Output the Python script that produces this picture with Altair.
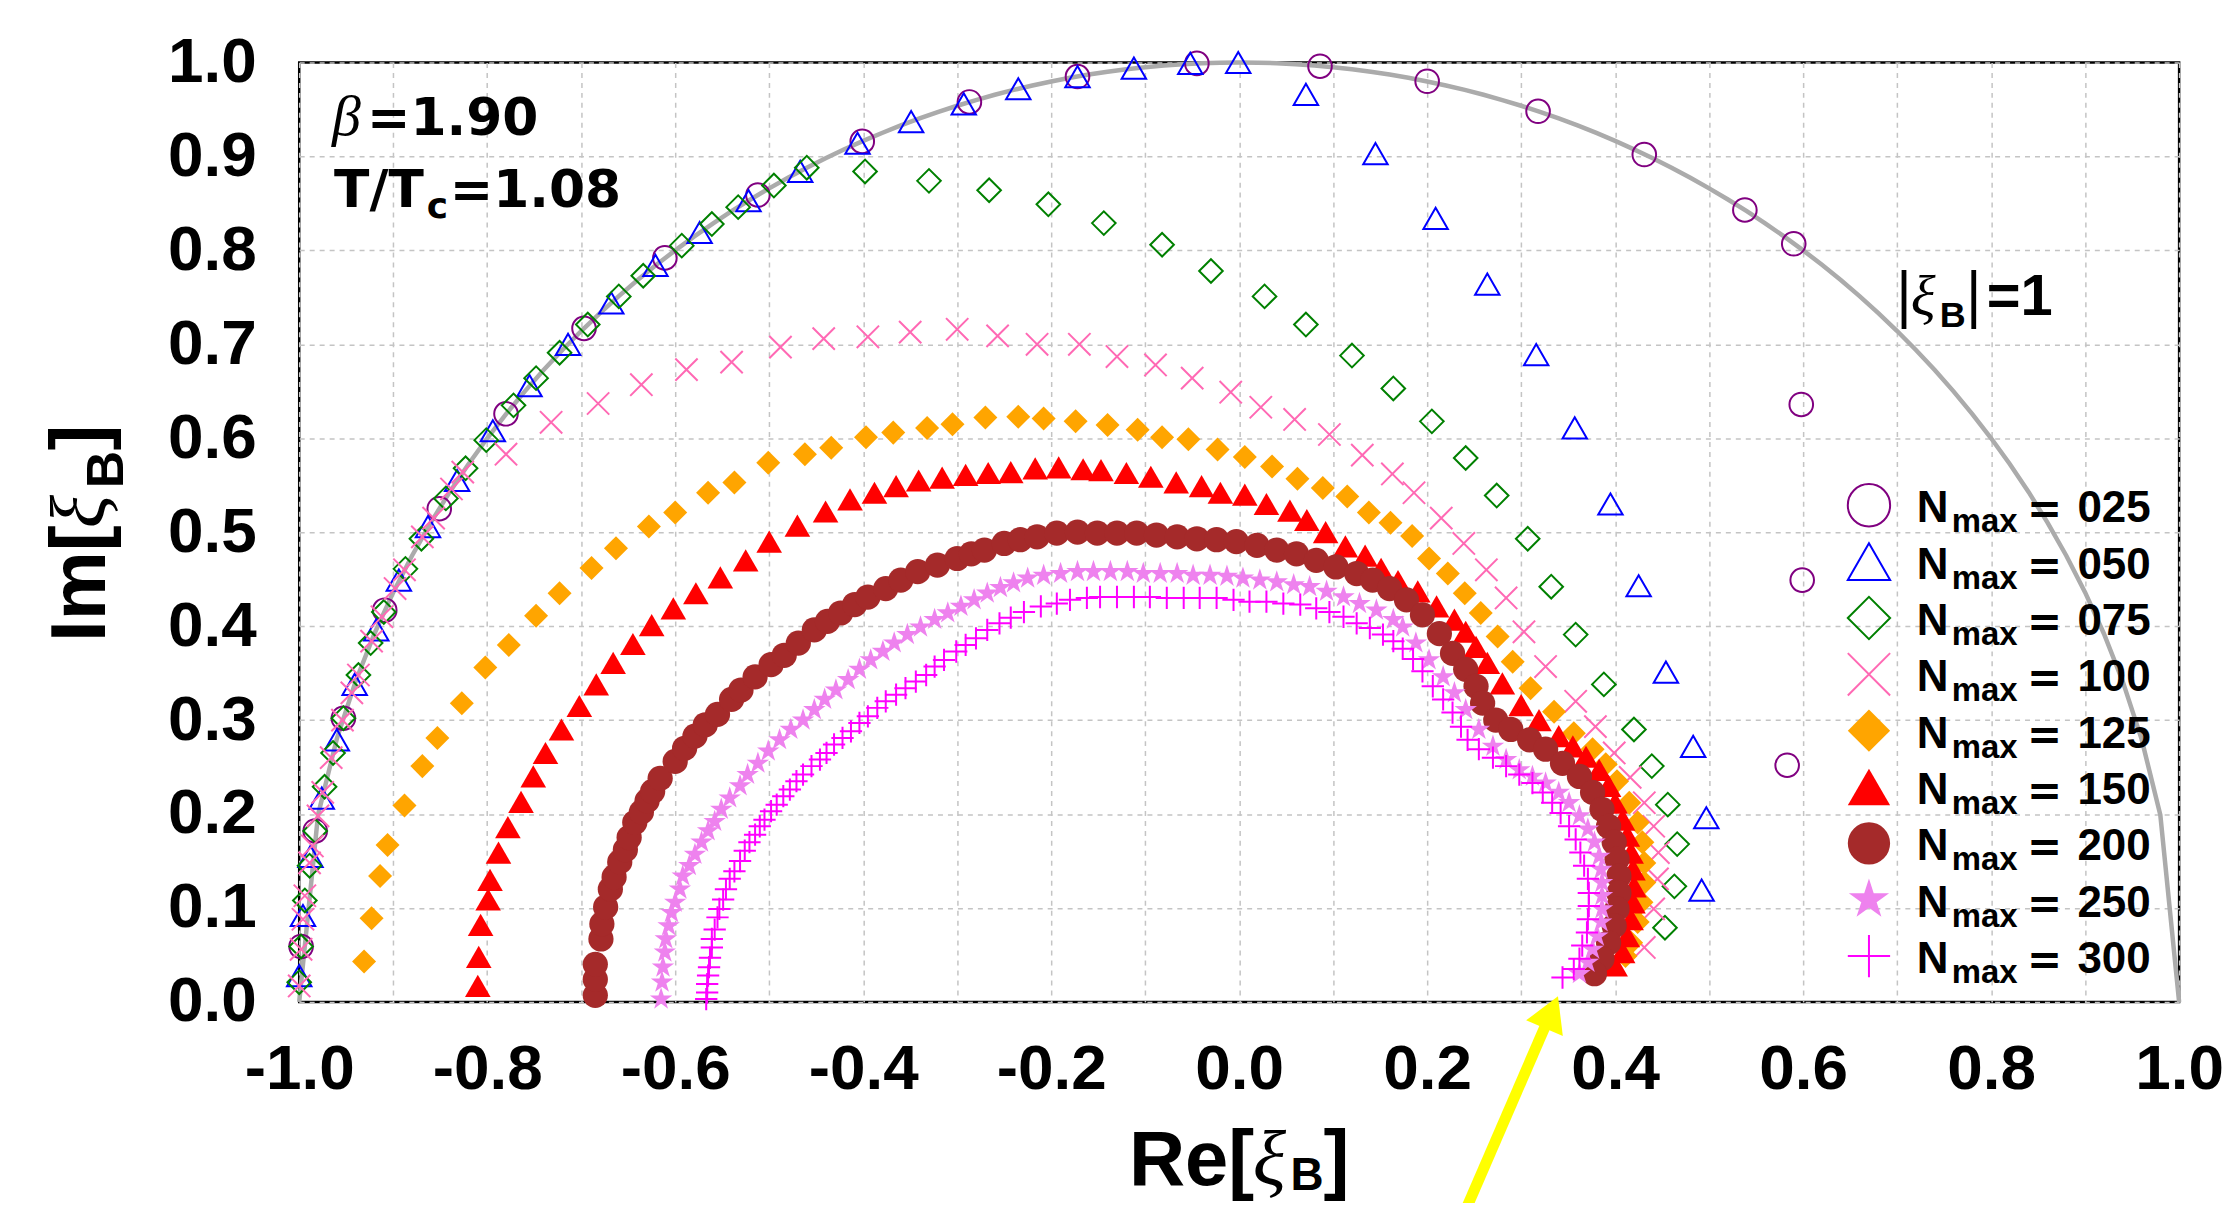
import numpy as np
import pandas as pd
import altair as alt

# ---------------- data ----------------
n025 = [(-0.998,0.059),(-0.983,0.182),(-0.953,0.302),(-0.909,0.417),(-0.851,0.525),(-0.780,0.626),
        (-0.697,0.717),(-0.611,0.792),(-0.512,0.859),(-0.401,0.916),(-0.287,0.958),(-0.172,0.985),
        (-0.045,0.999),(0.086,0.996),(0.200,0.980),(0.318,0.948),(0.431,0.902),(0.538,0.843),
        (0.590,0.807),(0.598,0.636),(0.599,0.449),(0.583,0.252)]

n050 = [(-1.000,0.028),(-0.996,0.092),(-0.988,0.155),(-0.976,0.217),(-0.960,0.279),(-0.941,0.338),
        (-0.918,0.396),(-0.894,0.449),(-0.863,0.506),(-0.832,0.555),(-0.794,0.608),(-0.755,0.656),
        (-0.714,0.700),(-0.668,0.744),(-0.621,0.784),(-0.574,0.819),(-0.522,0.853),(-0.467,0.884),
        (-0.406,0.914),(-0.349,0.937),(-0.293,0.956),(-0.235,0.972),(-0.172,0.985),(-0.112,0.994),
        (-0.052,0.999),(-0.001,1.000),(0.071,0.966),(0.145,0.903),(0.209,0.834),(0.264,0.764),
        (0.316,0.689),(0.357,0.611),(0.395,0.530),(0.425,0.443),(0.454,0.351),(0.483,0.272),
        (0.497,0.196),(0.492,0.119)]

n075 = [(-1.000,0.021),(-0.998,0.059),(-0.994,0.108),(-0.989,0.145),(-0.983,0.182),(-0.973,0.229),
        (-0.964,0.265),(-0.953,0.302),(-0.937,0.348),(-0.924,0.382),(-0.910,0.415),(-0.887,0.461),
        (-0.870,0.493),(-0.844,0.536),(-0.823,0.568),(-0.801,0.598),(-0.772,0.635),(-0.748,0.664),
        (-0.723,0.691),(-0.693,0.721),(-0.660,0.751),(-0.634,0.773),(-0.593,0.805),(-0.561,0.828),
        (-0.533,0.846),(-0.495,0.869),(-0.460,0.888),(-0.398,0.884),(-0.330,0.874),(-0.266,0.864),
        (-0.203,0.849),(-0.144,0.829),(-0.082,0.806),(-0.030,0.778),(0.027,0.751),(0.071,0.721),
        (0.120,0.688),(0.164,0.653),(0.205,0.618),(0.241,0.579),(0.274,0.539),(0.307,0.493),
        (0.332,0.442),(0.358,0.391),(0.388,0.338),(0.420,0.290),(0.439,0.251),(0.456,0.210),
        (0.466,0.168),(0.463,0.123),(0.453,0.079)]

n100 = [(-1.000,0.017),(-0.998,0.056),(-0.996,0.088),(-0.994,0.113),(-0.989,0.148),(-0.986,0.166),
        (-0.980,0.198),(-0.975,0.223),(-0.966,0.260),(-0.954,0.300),(-0.944,0.329),(-0.937,0.348),
        (-0.923,0.384),(-0.912,0.410),(-0.898,0.440),(-0.888,0.460),(-0.869,0.495),(-0.857,0.515),
        (-0.838,0.546),(-0.826,0.564),(-0.780,0.583),(-0.732,0.617),(-0.682,0.637),(-0.636,0.657),
        (-0.588,0.673),(-0.540,0.681),(-0.488,0.697),(-0.442,0.706),(-0.395,0.708),(-0.350,0.713),
        (-0.300,0.716),(-0.257,0.709),(-0.215,0.700),(-0.170,0.700),(-0.130,0.687),(-0.089,0.678),
        (-0.050,0.664),(-0.009,0.649),(0.023,0.633),(0.059,0.620),(0.096,0.604),(0.131,0.582),
        (0.163,0.562),(0.186,0.542),(0.215,0.515),(0.239,0.488),(0.263,0.460),(0.284,0.430),
        (0.303,0.394),(0.326,0.357),(0.358,0.320),(0.379,0.293),(0.399,0.265),(0.416,0.239),
        (0.431,0.212),(0.441,0.187),(0.446,0.159),(0.445,0.131),(0.441,0.099),(0.431,0.058)]

n125 = [(-0.931,0.043),(-0.923,0.089),(-0.914,0.134),(-0.906,0.167),(-0.888,0.209),(-0.869,0.251),
        (-0.853,0.281),(-0.827,0.318),(-0.802,0.356),(-0.777,0.380),(-0.748,0.411),(-0.723,0.435),
        (-0.689,0.462),(-0.663,0.483),(-0.628,0.506),(-0.600,0.521),(-0.565,0.542),(-0.537,0.553),
        (-0.501,0.574),(-0.462,0.583),(-0.434,0.590),(-0.397,0.601),(-0.368,0.606),(-0.332,0.611),
        (-0.305,0.615),(-0.270,0.622),(-0.235,0.623),(-0.208,0.621),(-0.174,0.618),(-0.140,0.614),
        (-0.108,0.609),(-0.082,0.601),(-0.054,0.599),(-0.023,0.588),(0.006,0.580),(0.035,0.570),
        (0.062,0.557),(0.089,0.547),(0.115,0.538),(0.138,0.521),(0.161,0.510),(0.184,0.496),
        (0.202,0.472),(0.222,0.456),(0.240,0.435),(0.257,0.414),(0.275,0.389),(0.291,0.362),
        (0.310,0.334),(0.335,0.309),(0.356,0.286),(0.376,0.269),(0.390,0.253),(0.402,0.235),
        (0.415,0.212),(0.424,0.191),(0.429,0.170),(0.431,0.148),(0.431,0.127),(0.428,0.106),
        (0.424,0.085),(0.417,0.063),(0.411,0.049)]

n150 = [(-0.810,0.017),(-0.809,0.048),(-0.807,0.082),(-0.799,0.109),(-0.797,0.130),(-0.788,0.159),
        (-0.778,0.186),(-0.764,0.213),(-0.751,0.240),(-0.738,0.265),(-0.721,0.290),(-0.702,0.315),
        (-0.684,0.338),(-0.666,0.361),(-0.645,0.381),(-0.625,0.401),(-0.602,0.419),(-0.578,0.435),
        (-0.552,0.452),(-0.525,0.470),(-0.500,0.490),(-0.470,0.507),(-0.440,0.522),(-0.414,0.535),
        (-0.388,0.542),(-0.365,0.549),(-0.341,0.555),(-0.316,0.558),(-0.291,0.561),(-0.267,0.563),
        (-0.243,0.564),(-0.217,0.568),(-0.192,0.569),(-0.166,0.567),(-0.147,0.566),(-0.120,0.563),
        (-0.094,0.559),(-0.067,0.553),(-0.040,0.549),(-0.020,0.542),(0.006,0.540),(0.029,0.530),
        (0.054,0.523),(0.072,0.513),(0.092,0.500),(0.113,0.485),(0.134,0.475),(0.151,0.461),
        (0.169,0.448),(0.190,0.437),(0.210,0.421),(0.229,0.407),(0.241,0.394),(0.252,0.378),
        (0.264,0.361),(0.280,0.339),(0.300,0.316),(0.319,0.300),(0.340,0.283),(0.355,0.272),
        (0.369,0.261),(0.383,0.247),(0.393,0.230),(0.400,0.212),(0.408,0.194),(0.413,0.177),
        (0.417,0.159),(0.419,0.141),(0.420,0.123),(0.419,0.106),(0.417,0.088),(0.413,0.070),
        (0.408,0.053),(0.400,0.039)]

n200 = [(-0.685,0.007),(-0.685,0.024),(-0.685,0.040),(-0.679,0.067),(-0.678,0.083),(-0.674,0.101),
        (-0.669,0.120),(-0.665,0.133),(-0.659,0.149),(-0.653,0.162),(-0.649,0.175),(-0.643,0.191),
        (-0.636,0.202),(-0.630,0.214),(-0.624,0.224),(-0.616,0.238),(-0.600,0.256),(-0.590,0.270),
        (-0.579,0.283),(-0.568,0.295),(-0.555,0.306),(-0.540,0.322),(-0.530,0.332),(-0.515,0.346),
        (-0.498,0.359),(-0.484,0.369),(-0.469,0.382),(-0.452,0.396),(-0.438,0.405),(-0.424,0.414),
        (-0.409,0.423),(-0.395,0.431),(-0.376,0.440),(-0.360,0.449),(-0.342,0.458),(-0.321,0.465),
        (-0.300,0.472),(-0.285,0.477),(-0.271,0.481),(-0.250,0.488),(-0.233,0.492),(-0.215,0.495),
        (-0.194,0.499),(-0.172,0.500),(-0.151,0.499),(-0.130,0.499),(-0.109,0.499),(-0.088,0.497),
        (-0.066,0.495),(-0.045,0.493),(-0.024,0.492),(-0.003,0.490),(0.019,0.486),(0.040,0.481),
        (0.061,0.477),(0.082,0.470),(0.103,0.463),(0.125,0.456),(0.142,0.449),(0.160,0.440),
        (0.178,0.428),(0.195,0.412),(0.213,0.392),(0.227,0.371),(0.241,0.354),(0.252,0.336),
        (0.259,0.318),(0.273,0.300),(0.289,0.290),(0.309,0.279),(0.326,0.269),(0.344,0.254),
        (0.362,0.240),(0.376,0.223),(0.386,0.205),(0.393,0.187),(0.399,0.170),(0.402,0.152),
        (0.404,0.134),(0.404,0.116),(0.402,0.099),(0.399,0.081),(0.393,0.063),(0.386,0.046),
        (0.378,0.030)]

n250 = [(-0.615,0.003),(-0.614,0.021),(-0.613,0.037),(-0.611,0.053),(-0.610,0.067),(-0.607,0.081),
        (-0.604,0.095),(-0.600,0.106),(-0.595,0.120),(-0.592,0.134),(-0.585,0.145),(-0.579,0.157),
        (-0.572,0.170),(-0.565,0.182),(-0.558,0.192),(-0.551,0.205),(-0.542,0.217),(-0.531,0.230),
        (-0.523,0.242),(-0.512,0.254),(-0.501,0.267),(-0.489,0.279),(-0.477,0.290),(-0.464,0.300),
        (-0.452,0.311),(-0.441,0.322),(-0.429,0.332),(-0.416,0.343),(-0.404,0.354),(-0.392,0.364),
        (-0.379,0.373),(-0.367,0.382),(-0.353,0.391),(-0.339,0.399),(-0.324,0.407),(-0.310,0.414),
        (-0.296,0.421),(-0.282,0.428),(-0.268,0.435),(-0.254,0.441),(-0.240,0.446),(-0.225,0.451),
        (-0.208,0.454),(-0.190,0.456),(-0.172,0.458),(-0.155,0.458),(-0.137,0.458),(-0.119,0.458),
        (-0.102,0.456),(-0.084,0.456),(-0.066,0.456),(-0.049,0.454),(-0.031,0.454),(-0.013,0.453),
        (0.004,0.451),(0.022,0.449),(0.040,0.447),(0.058,0.444),(0.075,0.442),(0.093,0.437),
        (0.111,0.431),(0.128,0.424),(0.146,0.417),(0.164,0.407),(0.174,0.399),(0.188,0.382),
        (0.202,0.364),(0.217,0.346),(0.229,0.329),(0.241,0.311),(0.255,0.290),(0.270,0.272),
        (0.284,0.258),(0.298,0.247),(0.312,0.240),(0.326,0.233),(0.340,0.223),(0.351,0.212),
        (0.362,0.198),(0.371,0.184),(0.378,0.170),(0.383,0.155),(0.385,0.141),(0.386,0.127),
        (0.386,0.113),(0.386,0.099),(0.385,0.085),(0.381,0.070),(0.376,0.056),(0.371,0.042),
        (0.362,0.030)]

n300 = [(-0.567,0.003),(-0.566,0.010),(-0.566,0.019),(-0.565,0.028),(-0.564,0.037),(-0.563,0.047),
        (-0.561,0.058),(-0.561,0.067),(-0.558,0.077),(-0.555,0.090),(-0.553,0.099),(-0.549,0.109),
        (-0.546,0.120),(-0.542,0.131),(-0.537,0.139),(-0.531,0.150),(-0.526,0.161),(-0.521,0.170),
        (-0.515,0.178),(-0.510,0.187),(-0.505,0.194),(-0.498,0.203),(-0.492,0.210),(-0.485,0.219),
        (-0.478,0.226),(-0.471,0.235),(-0.464,0.242),(-0.455,0.251),(-0.446,0.258),(-0.439,0.265),
        (-0.431,0.274),(-0.422,0.281),(-0.413,0.288),(-0.404,0.297),(-0.395,0.304),(-0.385,0.313),
        (-0.376,0.320),(-0.365,0.327),(-0.355,0.334),(-0.344,0.341),(-0.333,0.348),(-0.324,0.357),
        (-0.314,0.364),(-0.301,0.373),(-0.291,0.380),(-0.280,0.387),(-0.268,0.396),(-0.255,0.403),
        (-0.243,0.409),(-0.229,0.415),(-0.211,0.421),(-0.194,0.424),(-0.180,0.428),(-0.162,0.430),
        (-0.148,0.431),(-0.130,0.431),(-0.112,0.431),(-0.095,0.431),(-0.077,0.430),(-0.059,0.430),
        (-0.042,0.430),(-0.024,0.430),(-0.006,0.428),(0.011,0.426),(0.029,0.426),(0.047,0.424),
        (0.065,0.423),(0.082,0.419),(0.096,0.415),(0.111,0.410),(0.125,0.403),(0.139,0.398),
        (0.153,0.391),(0.164,0.384),(0.174,0.376),(0.185,0.365),(0.195,0.352),(0.206,0.336),
        (0.217,0.322),(0.227,0.308),(0.236,0.293),(0.243,0.279),(0.255,0.269),(0.270,0.260),
        (0.284,0.251),(0.298,0.242),(0.312,0.233),(0.323,0.223),(0.333,0.212),(0.342,0.201),
        (0.351,0.187),(0.358,0.173),(0.363,0.159),(0.367,0.145),(0.371,0.131),(0.372,0.116),
        (0.372,0.102),(0.371,0.088),(0.370,0.074),(0.365,0.060),(0.362,0.046),(0.356,0.035),
        (0.344,0.026)]

series_names = ["025", "050", "075", "100", "125", "150", "200", "250", "300"]
series_data = [n025, n050, n075, n100, n125, n150, n200, n250, n300]

# reference curve |xi_B| = 1 (upper unit half-circle, sampled in Re)
unit_re = np.linspace(-1.0, 1.0, 101)
unit_im = np.sqrt(np.clip(1.0 - unit_re ** 2, 0, None))

# yellow arrow (data coordinates: tail, head)
arrow_tail = (0.239, -0.226)
arrow_head = (0.332, -0.011)

x_grid_values = [-1.0, -0.9, -0.8, -0.7, -0.6, -0.5, -0.4, -0.3, -0.2, -0.1, 0.0,
                 0.1, 0.2, 0.3, 0.4, 0.5, 0.6, 0.7, 0.8, 0.9, 1.0]
y_grid_values = [0.0, 0.1, 0.2, 0.3, 0.4, 0.5, 0.6, 0.7, 0.8, 0.9, 1.0]

# ---------------- styles ----------------
STAR = ("M0,-1L0.2245,-0.309L0.951,-0.309L0.363,0.118L0.588,0.809L0,0.382"
        "L-0.588,0.809L-0.363,0.118L-0.951,-0.309L-0.2245,-0.309Z")
XMARK = "M-1,-1L1,1M-1,1L1,-1"
PLUS = "M0,-1L0,1M-1,0L1,0"

styles = {
    "025": dict(shape="circle", filled=False, color="#800080", size=560),
    "050": dict(shape="triangle-up", filled=False, color="#0000ff", size=600),
    "075": dict(shape="diamond", filled=False, color="#008000", size=560),
    "100": dict(shape=XMARK, filled=False, color="#ff69b4", size=500),
    "125": dict(shape="diamond", filled=True, color="#ffa500", size=580),
    "150": dict(shape="triangle-up", filled=True, color="#ff0000", size=660),
    "200": dict(shape="circle", filled=True, color="#a52a2a", size=640),
    "250": dict(shape=STAR, filled=True, color="#ee82ee", size=560),
    "300": dict(shape=PLUS, filled=False, color="#ff00ff", size=500),
}

SANS = "Liberation Sans"
SERIF = "Liberation Serif"
DSANS = "DejaVu Sans"

xscale = alt.Scale(domain=[-1, 1], nice=False, zero=False)
yscale = alt.Scale(domain=[0, 1], nice=False, zero=False)

xaxis = alt.Axis(
    values=x_grid_values, title=None, ticks=False, tickSize=0, domain=False, grid=True,
    labelExpr="abs(round(datum.value*10)) % 2 == 0 ? replace(format(datum.value, '.1f'), '\u2212', '-') : ''",
    labelPadding=36, labelFlush=False, labelOverlap=False,
)
yaxis = alt.Axis(
    values=y_grid_values, title=None, ticks=False, tickSize=0, domain=False, grid=True,
    format=".1f", labelPadding=43, labelFlush=False, labelOverlap=False,
)

X = alt.X("re:Q", scale=xscale, axis=xaxis)
Y = alt.Y("im:Q", scale=yscale, axis=yaxis)

layers = []

# unit circle
circle_df = pd.DataFrame({"re": unit_re, "im": unit_im, "o": np.arange(len(unit_re))})
layers.append(
    alt.Chart(circle_df).mark_line(color="#ababab", strokeWidth=4.5).encode(
        x=X, y=Y, order="o:Q")
)

# data series
for name, pts in zip(series_names, series_data):
    st = styles[name]
    df = pd.DataFrame(pts, columns=["re", "im"])
    mk = dict(shape=st["shape"], filled=st["filled"], color=st["color"], size=st["size"],
              opacity=1, strokeWidth=2)
    if name == "250":
        mk["strokeWidth"] = 1
    layers.append(alt.Chart(df).mark_point(**mk).encode(x=X, y=Y))

# yellow arrow
arrow_df = pd.DataFrame({"re": [arrow_tail[0]], "im": [arrow_tail[1]],
                         "re2": [arrow_head[0]], "im2": [arrow_head[1]]})
layers.append(
    alt.Chart(arrow_df).mark_rule(color="#ffff00", strokeWidth=11, strokeCap="butt").encode(
        x=X, y=Y, x2="re2:Q", y2="im2:Q")
)
head_df = pd.DataFrame({"re": [arrow_head[0]], "im": [arrow_head[1]]})
layers.append(
    alt.Chart(head_df).mark_point(shape="triangle-up", filled=True, color="#ffff00",
                                  size=1600, opacity=1, angle=23).encode(x=X, y=Y)
)

# custom legend (pixel layout inside the plot area)
LEG_X = 1574
LEG_Y0 = 444
LEG_DY = 56.5


def text_piece(txt, px, py, size, font=SANS, weight="bold", style="normal",
               align="left", angle=0, baseline="alphabetic"):
    return alt.Chart(pd.DataFrame({"t": [txt]})).mark_text(
        font=font, fontWeight=weight, fontStyle=style, fontSize=size, align=align,
        baseline=baseline, angle=angle, color="black").encode(
        x=alt.value(px), y=alt.value(py), text="t:N")


for i, name in enumerate(series_names):
    st = styles[name]
    row = LEG_Y0 + i * LEG_DY
    mk = dict(shape=st["shape"], filled=st["filled"], color=st["color"], size=1800,
              opacity=1, strokeWidth=2)
    if name == "250":
        mk["strokeWidth"] = 1
    layers.append(
        alt.Chart(pd.DataFrame({"k": [name]})).mark_point(**mk).encode(
            x=alt.value(LEG_X), y=alt.value(row))
    )
    layers.append(text_piece("N", 1622, row + 17, 44))
    layers.append(text_piece("max", 1657, row + 27, 33))
    layers.append(text_piece("=", 1750, row + 18, 42, font=DSANS, align="center"))
    layers.append(text_piece(name, 1783, row + 17, 44))

# annotations
TY = 1126  # baseline of the x-axis title (pixels from plot top)
layers += [
    text_piece("\u03b2", 33, 73, 58, font=SERIF, weight="normal", style="italic"),
    text_piece("=1.90", 68, 73, 52, font=DSANS),
    text_piece("T/T", 35, 145, 52, font=DSANS),
    text_piece("c", 128, 156, 36, font=DSANS),
    text_piece("=1.08", 151, 145, 52, font=DSANS),
    # |xi_B| = 1
    text_piece("|", 1609, 253, 58, font=DSANS, weight="normal", align="center"),
    text_piece("\u03be", 1616, 253, 58, font=SERIF, weight="normal", style="italic"),
    text_piece("B", 1645, 265, 36),
    text_piece("|", 1679, 253, 58, font=DSANS, weight="normal", align="center"),
    text_piece("=1", 1692, 253, 58),
    # x-axis title Re[xi_B]
    text_piece("Re[", 832, TY, 78),
    text_piece("\u03be", 956, TY, 78, font=SERIF, weight="normal", style="italic"),
    text_piece("B", 994, TY + 5, 46),
    text_piece("]", 1027, TY, 78),
    # y-axis title Im[xi_B] (rotated)
    text_piece("Im[", -195, 581, 78, angle=270),
    text_piece("\u03be", -195, 467, 78, font=SERIF, weight="normal", style="italic", angle=270),
    text_piece("B", -177, 427, 52, angle=270),
    text_piece("]", -195, 389, 78, angle=270),
]

chart = alt.layer(*layers).properties(
    width=1885, height=942,
    autosize=alt.AutoSizeParams(type="none"),
    padding={"left": 292, "top": 53, "right": 45, "bottom": 200},
).configure_view(
    stroke="black", strokeWidth=2.5
).configure_axis(
    labelFont=SANS, labelFontWeight="bold", labelFontSize=64, labelColor="black",
    gridColor="#c4c4c4", gridDash=[5, 5], gridWidth=1.5,
)

chart.save("out.html", embed_options={"renderer": "svg", "actions": False})
